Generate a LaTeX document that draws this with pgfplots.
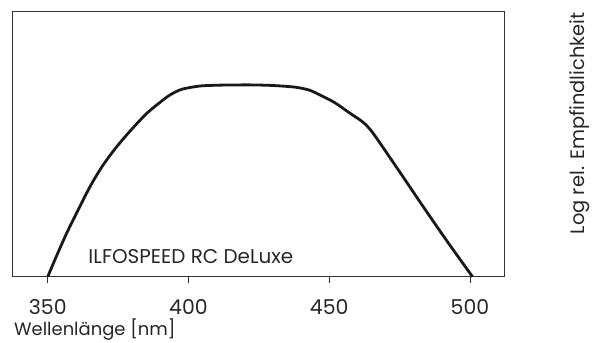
\documentclass[border=0pt]{standalone}
\usepackage{fontspec}
\setmainfont{Poppins}
\usepackage{pgfplots}
\pgfplotsset{compat=1.18}
\begin{document}
\begin{tikzpicture}[x=1bp,y=1bp]
\path[use as bounding box] (-12.3,-65.3) rectangle (579.7,265.7+11);
\begin{axis}[
  at={(0,0)}, anchor=south west,
  scale only axis,
  width=491.7bp, height=265.7bp,
  xmin=337.4, xmax=512.1,
  ymin=0, ymax=265.7,
  axis line style={draw=black!80, line width=0.9bp},
  xtick={350,400,450,500},
  ytick=\empty,
  xtick pos=bottom,
  tick align=outside,
  major tick length=6bp,
  tick style={draw=black!80, line width=0.9bp},
  /pgf/number format/assume math mode=true,
  xticklabel style={font=\fontsize{20.5}{20}\selectfont, anchor=base, yshift=-31.5bp, text=black!85},
  clip=false,
]
\addplot[line width=2.8bp, color=black!90, smooth, tension=0.45] coordinates {
(350,0) (353,20) (356.7,43.4) (360.5,65) (365,90) (369.5,111) (374.5,130) (380,148) (385.2,163.4) (389.5,173.5) (393.4,181.7) (397.6,187.4) (404.1,190.7) (412,191.6) (421.9,191.8) (430,191.2) (438,189.5) (443,186.5) (446.7,181.7) (452,174) (457.4,163.4) (462,154.5) (465.6,143.4) (474.5,107) (483.4,70) (492,35) (500.9,0)
};
\node[anchor=base west, font=\fontsize{20}{20}\selectfont, text=black!85, inner sep=0] at (axis cs:364.4,13.4) {ILFOSPEED RC DeLuxe};
\end{axis}
\node[anchor=base west, font=\fontsize{18}{18}\selectfont, text=black!85, inner sep=0] at (1.7,-58.5) {Wellenlänge [nm]};
\node[anchor=base east, rotate=90, font=\fontsize{19.5}{20}\selectfont, text=black!85, inner sep=0] at (572.5,264.5) {Log rel. Empfindlichkeit};
\end{tikzpicture}
\end{document}
